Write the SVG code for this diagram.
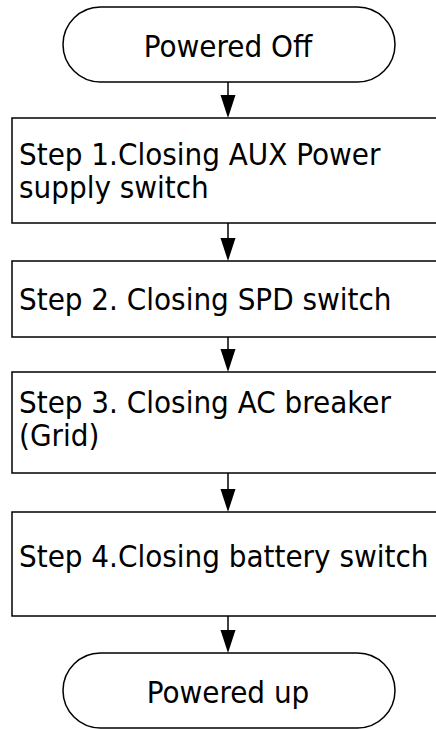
<svg xmlns="http://www.w3.org/2000/svg" width="436" height="729" viewBox="0 0 436 729">
<style>
.shape{fill:#fff;stroke:#000;stroke-width:1.5}
.t{font-family:"DejaVu Sans Condensed","DejaVu Sans",Verdana,sans-serif;font-stretch:condensed;font-size:31px;fill:#000}
.c{text-anchor:middle}
.conn{stroke:#000;stroke-width:1.5;fill:none}
.head{fill:#000;stroke:none}
</style>
<rect width="436" height="729" fill="#fff"/>
<g id="powered-off">
<rect class="shape" x="63" y="7" width="332" height="75" rx="37.5" ry="37.5"/>
<text class="t c" x="228" y="57">Powered Off</text>
</g>
<g id="step1">
<rect class="shape" x="12" y="118" width="433" height="105"/>
<text class="t" x="19" y="165">Step 1.Closing AUX Power</text>
<text class="t" x="19" y="198">supply switch</text>
</g>
<g id="step2">
<rect class="shape" x="12" y="261" width="433" height="76"/>
<text class="t" x="19" y="310">Step 2. Closing SPD switch</text>
</g>
<g id="step3">
<rect class="shape" x="12" y="372" width="433" height="101"/>
<text class="t" x="19" y="413">Step 3. Closing AC breaker</text>
<text class="t" x="19" y="446">(Grid)</text>
</g>
<g id="step4">
<rect class="shape" x="12" y="512" width="433" height="104"/>
<text class="t" x="19" y="567">Step 4.Closing battery switch</text>
</g>
<g id="powered-up">
<rect class="shape" x="63" y="653" width="332" height="75" rx="37.5" ry="37.5"/>
<text class="t c" x="228" y="703">Powered up</text>
</g>
<g id="connectors">
<line class="conn" x1="228" y1="82" x2="228" y2="96"/>
<polygon class="head" points="220.5,95 235.5,95 228,118"/>
<line class="conn" x1="228" y1="223" x2="228" y2="239"/>
<polygon class="head" points="220.5,238 235.5,238 228,261"/>
<line class="conn" x1="228" y1="337" x2="228" y2="350"/>
<polygon class="head" points="220.5,349 235.5,349 228,372"/>
<line class="conn" x1="228" y1="473" x2="228" y2="490"/>
<polygon class="head" points="220.5,489 235.5,489 228,512"/>
<line class="conn" x1="228" y1="616" x2="228" y2="631"/>
<polygon class="head" points="220.5,630 235.5,630 228,653"/>
</g>
</svg>
